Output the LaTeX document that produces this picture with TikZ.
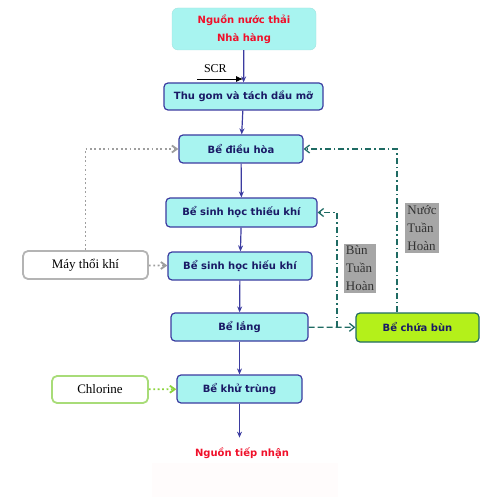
\documentclass[tikz,border=0pt]{standalone}
\usepackage{fontspec}
\setmainfont{Liberation Serif}
\newfontfamily\boxfont{DejaVu Sans}
\usetikzlibrary{arrows.meta}
\definecolor{tankfill}{HTML}{A8F4F0}
\definecolor{tankline}{HTML}{3B3BA0}
\definecolor{tanktext}{HTML}{1A1A66}
\definecolor{sludgefill}{HTML}{B4F01A}
\definecolor{recycle}{HTML}{1F6B63}
\definecolor{airline}{HTML}{B4B4B4}
\definecolor{airdots}{HTML}{9E9E9E}
\definecolor{chlorline}{HTML}{A8DC78}
\definecolor{chlordots}{HTML}{8CD43C}
\definecolor{labelgray}{HTML}{A6A6A6}
\definecolor{srcred}{HTML}{F0102A}
\tikzset{
  tank/.style={draw=tankline,line width=1.2pt,rounded corners=4pt,fill=tankfill,
    font=\boxfont\bfseries\fontsize{10}{12}\selectfont,text=tanktext},
  feed/.style={draw,line width=1.8pt,rounded corners=5pt,fill=white,
    font=\fontsize{13}{15}\selectfont},
  graylabel/.style={fill=labelgray,align=left,inner sep=2pt,
    font=\fontsize{13}{18}\selectfont,text=black!80},
  flow/.style={draw=tankline,line width=1.2pt,-{Stealth[length=6pt,width=5pt]}},
  dots/.style={line width=1.8pt,dash pattern=on 1.8pt off 2.6pt,
    -{Straight Barb[length=5pt,width=7pt]}},
  ret/.style={draw=recycle,line width=1.3pt,dash pattern=on 6pt off 3pt on 1.5pt off 3pt,
    -{Straight Barb[length=5pt,width=8pt]}},
}
\begin{document}
\begin{tikzpicture}[x=1pt,y=-1pt]
        \useasboundingbox (0,0) rectangle (500,497);
        %% faint band at the foot
        \fill[red!1] (152,463) rectangle (338,497);
        %% Source
        \node[fill=tankfill,draw=tankfill!85!gray,rounded corners=6pt,minimum width=144pt,minimum height=42pt,
          align=center,text=srcred,font=\boxfont\bfseries\fontsize{10}{18}\selectfont] (src) at (244,29) {Nguồn nước thải\\Nhà hàng};
        %% Tanks
        \node[tank,minimum width=159pt,minimum height=27pt] (grease) at (243.5,96.5) {Thu gom và tách dầu mỡ};
        \node[tank,minimum width=124pt,minimum height=28pt] (equal) at (241,149) {Bể điều hòa};
        \node[tank,minimum width=151pt,minimum height=29pt] (anox) at (241.5,212.5) {Bể sinh học thiếu khí};
        \node[tank,minimum width=144pt,minimum height=28pt] (aero) at (240,266) {Bể sinh học hiếu khí};
        \node[tank,minimum width=137pt,minimum height=28pt] (settle) at (239.5,327) {Bể lắng};
        \node[tank,minimum width=125pt,minimum height=28pt] (disinf) at (239.5,389) {Bể khử trùng};
        \node[tank,fill=sludgefill,draw=recycle,minimum width=123pt,minimum height=29pt] (sludge) at (417.5,327.5) {Bể chứa bùn};
        \node[text=srcred,font=\boxfont\bfseries\fontsize{10}{12}\selectfont] (recv) at (242,453) {Nguồn tiếp nhận};
        %% Inputs
        \node[feed,draw=airline,minimum width=125pt,minimum height=28pt] (blower) at (85.5,265) {Máy thổi khí};
        \node[feed,draw=chlorline,minimum width=96pt,minimum height=27pt] (chlor) at (100,389.5) {Chlorine};
        \node[graylabel] (sludgelbl) at (360,268.5) {Bùn\\Tuần\\Hoàn};
        \node[graylabel] (waterlbl) at (422,228) {Nước\\Tuần\\Hoàn};
        %% Main line
        \draw[flow] (src) -- (grease);
        \draw[flow] (grease) -- (equal);
        \draw[flow] (equal) -- (anox);
        \draw[flow] (anox) -- (aero);
        \draw[flow] (aero) -- (settle);
        \draw[flow] (settle) -- (disinf);
        \draw[flow] (disinf.south) -- ++(0,34) coordinate (recvtop);
        %% SCR
        \coordinate (scrin) at (197,79);
        \coordinate (scrout) at (243,79);
        \draw[line width=0.8pt,-{Latex[length=7pt,width=6pt]}] (scrin) -- (scrout) node[pos=0.4,anchor=south,yshift=3pt,font=\fontsize{12}{14}\selectfont] (scr) {SCR};
        %% Air and chlorine
        \draw[dots,airdots] (blower.north) |- (equal.west);
        \draw[dots,airdots] (blower) -- (aero);
        \draw[dots,chlordots] (chlor) -- (disinf);
        %% Recycle
        \coordinate (split) at (337,327);
        \draw[ret,dash pattern=on 6pt off 3pt] (settle) -- (sludge);
        \draw[ret] (split) |- (anox.east);
        \draw[ret] (sludge.north -| 397,0) |- (equal.east);
\end{tikzpicture}
\end{document}
